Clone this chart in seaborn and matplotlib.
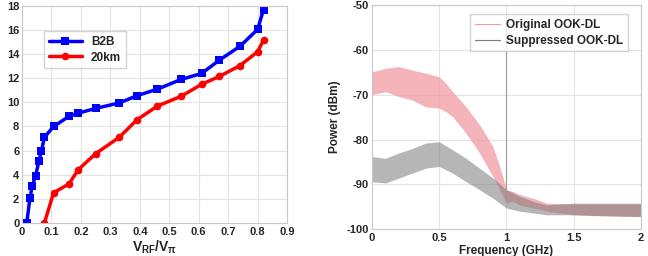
import numpy as np
import pandas as pd
import matplotlib
matplotlib.use("Agg")
import matplotlib.pyplot as plt
import seaborn as sns

# Left panel: gain vs V_RF/V_pi
b2b_x = [0.016, 0.027, 0.035, 0.046, 0.057, 0.066, 0.076, 0.107, 0.16, 0.19,
         0.25, 0.33, 0.39, 0.46, 0.54, 0.61, 0.67, 0.74, 0.80, 0.82]
b2b_y = [0.0, 2.1, 3.1, 3.9, 5.1, 6.0, 7.1, 8.0, 8.85, 9.1,
         9.5, 9.95, 10.55, 11.1, 11.9, 12.4, 13.5, 14.65, 16.05, 17.7]
km20_x = [0.076, 0.107, 0.16, 0.19, 0.25, 0.33, 0.39, 0.46, 0.54, 0.61,
          0.67, 0.74, 0.80, 0.82]
km20_y = [0.0, 2.5, 3.25, 4.4, 5.75, 7.1, 8.55, 9.7, 10.5, 11.5,
          12.15, 13.05, 14.2, 15.15]

# Right panel: spectrum envelopes (upper / lower edge of the noisy trace)
orig_f = [0.0, 0.1, 0.2, 0.3, 0.4, 0.5, 0.55, 0.6, 0.7, 0.8, 0.9, 0.95,
          1.0, 1.05, 1.1, 1.2, 1.3, 1.5, 1.7, 2.0]
orig_hi = [-64.9, -64.1, -63.7, -64.5, -65.2, -66.0, -67.5, -69.3, -72.7, -76.7,
           -81.6, -86.0, -91.2, -91.6, -92.3, -93.1, -94.2, -94.4, -94.4, -94.4]
orig_lo = [-70.0, -69.3, -70.4, -71.2, -72.7, -73.0, -73.8, -74.9, -78.6, -83.0,
           -88.3, -91.2, -94.2, -93.8, -94.6, -95.3, -96.0, -96.8, -97.0, -97.2]

supp_f = [0.0, 0.1, 0.2, 0.3, 0.4, 0.5, 0.6, 0.7, 0.8, 0.9,
          1.0, 1.1, 1.2, 1.3, 1.5, 1.7, 2.0]
supp_hi = [-83.8, -84.2, -83.0, -82.0, -80.8, -80.5, -82.3, -84.2, -86.4, -88.6,
           -91.2, -92.7, -93.8, -94.6, -94.2, -94.2, -94.2]
supp_lo = [-89.4, -89.7, -88.6, -87.5, -86.4, -86.0, -87.5, -89.4, -91.2, -93.1,
           -95.3, -96.0, -96.4, -96.8, -96.8, -97.0, -97.2]

spike_f = 1.0
spike_top = -52.0

sns.set_theme(style="whitegrid")
plt.rcParams["font.family"] = ["Liberation Sans", "DejaVu Sans"]
plt.rcParams["font.weight"] = "bold"
plt.rcParams["mathtext.fontset"] = "custom"
plt.rcParams["mathtext.bf"] = "Liberation Sans:bold"
plt.rcParams["mathtext.rm"] = "Liberation Sans:bold"

fig = plt.figure(figsize=(6.48, 2.56), dpi=100)
ax1 = fig.add_axes([0.034, 0.129, 0.409, 0.848])
ax2 = fig.add_axes([0.574, 0.105, 0.415, 0.875])

for ax in (ax1, ax2):
    ax.grid(True, color="#e4e4e4", linewidth=0.8)
    for s in ax.spines.values():
        s.set_color("#c8c8c8")
        s.set_linewidth(0.8)
    ax.tick_params(axis="y", labelsize=8, pad=2, length=0)
    ax.tick_params(axis="x", labelsize=8, pad=3, length=0)

# left panel
d1 = pd.DataFrame({"x": b2b_x, "y": b2b_y})
d2 = pd.DataFrame({"x": km20_x, "y": km20_y})
sns.lineplot(data=d1, x="x", y="y", ax=ax1, color="#0000ff", marker="s",
             markersize=5.5, markeredgewidth=0, linewidth=2.5, label="B2B",
             sort=False)
sns.lineplot(data=d2, x="x", y="y", ax=ax1, color="#ff0000", marker="o",
             markersize=5.5, markeredgewidth=0, linewidth=2.5, label="20km",
             sort=False)
ax1.set_xlim(0, 0.9)
ax1.set_ylim(0, 18)
ax1.set_xticks(np.arange(0, 0.91, 0.1))
ax1.set_xticklabels(["0", "0.1", "0.2", "0.3", "0.4", "0.5", "0.6", "0.7", "0.8", "0.9"],
                    fontweight="bold", fontsize=8)
ax1.set_yticks(range(0, 19, 2))
ax1.set_yticklabels([str(v) for v in range(0, 19, 2)], fontweight="bold", fontsize=8)
ax1.set_xlabel(r"$\mathbf{V_{RF}/V_{\pi}}$", fontsize=10, labelpad=1)
ax1.set_ylabel("")
leg1 = ax1.legend(loc="upper left", bbox_to_anchor=(0.06, 0.91), fontsize=8.5,
                  frameon=True, fancybox=False, handlelength=2.8,
                  borderpad=0.4, labelspacing=0.3)
leg1.get_frame().set_edgecolor("#c8c8c8")
for t in leg1.get_texts():
    t.set_fontweight("bold")

# right panel
pink = "#f29aa3"
grey = "#7a7a7a"
ax2.fill_between(orig_f, orig_lo, orig_hi, color=pink, alpha=0.75, linewidth=0)
ax2.fill_between(supp_f, supp_lo, supp_hi, color=grey, alpha=0.55, linewidth=0)
ax2.plot([spike_f, spike_f], [supp_hi[10], spike_top], color="#9a9a9a", linewidth=0.8)
ax2.plot([], [], color=pink, linewidth=0.8, label="Original OOK-DL")
ax2.plot([], [], color=grey, linewidth=0.8, label="Suppressed OOK-DL")
ax2.set_xlim(0, 2)
ax2.set_ylim(-100, -50)
ax2.set_xticks([0, 0.5, 1, 1.5, 2])
ax2.set_xticklabels(["0", "0.5", "1", "1.5", "2"], fontweight="bold", fontsize=8)
ax2.set_yticks(range(-100, -49, 10))
ax2.set_yticklabels([str(v) for v in range(-100, -49, 10)], fontweight="bold", fontsize=8)
ax2.set_xlabel("Frequency (GHz)", fontsize=8.5, fontweight="bold", labelpad=1)
ax2.set_ylabel("Power (dBm)", fontsize=8.5, fontweight="bold", labelpad=4)
leg2 = ax2.legend(loc="upper right", fontsize=8.5, frameon=True, fancybox=False,
                  handlelength=2.2, handletextpad=0.5, borderpad=0.4,
                  labelspacing=0.3, bbox_to_anchor=(0.975, 0.985))
leg2.get_frame().set_edgecolor("#c8c8c8")
for t in leg2.get_texts():
    t.set_fontweight("bold")

fig.savefig("out.png", dpi=100)
